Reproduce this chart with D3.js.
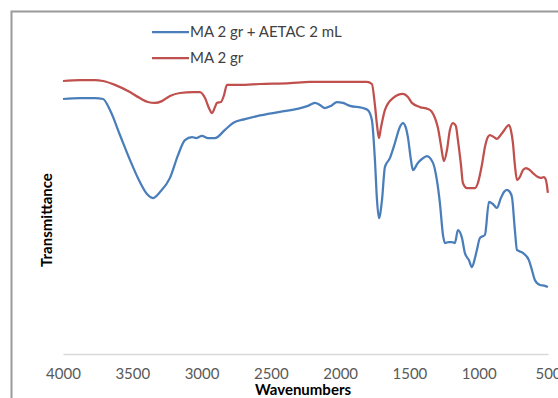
<!DOCTYPE html>
<html>
<head>
<meta charset="utf-8">
<script src="https://cdn.jsdelivr.net/npm/d3@7"></script>
<style>
  body { margin: 0; background: #fff; }
  text { font-family: Lato, "Open Sans", sans-serif; }
</style>
</head>
<body>
<div id="chart"></div>
<script>
var svgWidth = 558;
var svgHeight = 398;

// series names for the legend
var seriesNames = ["MA 2 gr + AETAC 2 mL", "MA 2 gr"];

// MA 2 gr + AETAC 2 mL (blue) : wavenumber, transmittance (arbitrary units)
var blueWn = [4000, 3877, 3769, 3711, 3661, 3589, 3517, 3445, 3394, 3351, 3300, 3228, 3170, 3120, 3069, 3040,
  2997, 2954, 2903, 2831, 2773, 2687, 2600, 2434, 2312, 2232, 2182, 2146, 2110, 2066, 2023, 1980, 1929, 1836,
  1800, 1771, 1749, 1734, 1720, 1698, 1677, 1641, 1605, 1569, 1547, 1525, 1511, 1489, 1475, 1439, 1410, 1374,
  1330, 1302, 1280, 1258, 1244, 1215, 1193, 1172, 1150, 1121, 1100, 1071, 1049, 1027, 1013, 991, 955, 926, 898,
  869, 840, 818, 797, 775, 760, 739, 724, 681, 638, 616, 595, 558, 522, 501];
var blueT = [85.0, 85.3, 85.3, 85.0, 81.3, 73.0, 64.7, 57.3, 53.3, 52.0, 54.0, 58.7, 66.3, 71.3, 72.3, 72.0,
  72.7, 72.0, 72.0, 74.7, 77.0, 78.3, 79.3, 80.7, 81.7, 82.7, 83.7, 83.0, 82.0, 82.7, 84.0, 83.7, 82.7, 82.0,
  81.3, 78.0, 64.7, 51.3, 45.3, 51.3, 62.3, 65.3, 70.3, 75.7, 77.0, 75.3, 72.3, 64.7, 61.3, 63.7, 65.0, 66.0,
  63.7, 58.0, 50.3, 39.7, 37.0, 37.3, 37.3, 37.0, 41.3, 38.7, 33.7, 31.3, 29.0, 32.0, 34.7, 38.7, 39.7, 50.7, 50.0,
  48.7, 52.0, 54.0, 54.7, 54.0, 52.3, 41.3, 34.7, 33.7, 31.3, 28.0, 24.7, 23.0, 22.7, 22.3];

// MA 2 gr (red)
var redWn = [4000, 3877, 3769, 3711, 3625, 3517, 3445, 3387, 3336, 3286, 3228, 3156, 3062, 3012, 2975, 2947,
  2925, 2903, 2889, 2860, 2838, 2817, 2723, 2579, 2362, 2218, 2001, 1807, 1771, 1749, 1734, 1720, 1706, 1677,
  1619, 1547, 1511, 1482, 1424, 1367, 1338, 1316, 1294, 1273, 1251, 1229, 1208, 1186, 1165, 1150, 1128, 1114,
  1085, 1027, 1006, 977, 955, 934, 919, 890, 869, 847, 825, 782, 768, 753, 739, 724, 703, 681, 659, 631, 609,
  573, 551, 530, 515, 508, 501];
var redT = [91.0, 91.3, 91.3, 91.0, 89.7, 87.3, 85.3, 84.0, 83.7, 84.3, 86.0, 87.0, 87.3, 87.3, 85.3, 82.0,
  80.3, 82.3, 83.7, 84.0, 86.3, 89.7, 89.7, 90.0, 90.3, 90.7, 90.7, 90.7, 90.0, 83.0, 76.3, 72.0, 75.3, 81.3,
  85.3, 86.7, 85.7, 83.7, 82.3, 81.7, 80.7, 78.7, 75.3, 69.7, 64.3, 68.0, 74.7, 77.0, 76.0, 71.3, 63.0, 57.0,
  55.3, 55.3, 57.0, 63.0, 69.0, 72.3, 73.0, 72.3, 71.7, 72.7, 74.0, 76.3, 74.7, 70.3, 63.0, 58.0, 59.0, 61.3,
  62.0, 61.3, 60.3, 59.0, 58.7, 59.0, 58.0, 56.3, 53.7];

// x axis ticks
var xTicks = [4000, 3500, 3000, 2500, 2000, 1500, 1000, 500];

var blueData = blueWn.map((w, i) => ({wn: w, t: blueT[i]}));
var redData = redWn.map((w, i) => ({wn: w, t: redT[i]}));

var svg = d3.select("#chart")
  .append("svg")
  .attr("width", svgWidth)
  .attr("height", svgHeight);

// outer chart frame (runs off the right and bottom edge)
svg.append("rect")
  .attr("x", 11.5)
  .attr("y", 11.5)
  .attr("width", 600)
  .attr("height", 450)
  .attr("fill", "none")
  .attr("stroke", "#9a9a9a")
  .attr("stroke-width", 2);

var xScale = d3.scaleLinear()
  .domain([4000, 500])
  .range([63, 548]);

var yScale = d3.scaleLinear()
  .domain([0, 100])
  .range([354, 54]);

// x axis: a plain grey line with labels, no tick marks
var xAxis = svg.append("g")
  .attr("transform", "translate(0, 354)")
  .call(d3.axisBottom(xScale).tickValues(xTicks).tickSize(0).tickPadding(14).tickFormat(d3.format("d")));

xAxis.select(".domain")
  .attr("stroke", "#d9d9d9")
  .attr("stroke-width", 1.5);

xAxis.selectAll("text")
  .attr("fill", "#595959")
  .style("font-size", "15px")
  .style("font-family", "Lato, sans-serif");

svg.append("text")
  .attr("x", 303)
  .attr("y", 395)
  .attr("text-anchor", "middle")
  .attr("font-weight", "bold")
  .attr("font-size", "15px")
  .attr("fill", "#000")
  .text("Wavenumbers");

svg.append("text")
  .attr("transform", "translate(52, 220) rotate(-90)")
  .attr("text-anchor", "middle")
  .attr("font-weight", "bold")
  .attr("font-size", "15px")
  .attr("fill", "#000")
  .text("Transmittance");

var line = d3.line()
  .x(d => xScale(d.wn))
  .y(d => yScale(d.t))
  .curve(d3.curveMonotoneX);

svg.append("path")
  .datum(redData)
  .attr("d", line)
  .attr("fill", "none")
  .attr("stroke", "#c0504d")
  .attr("stroke-width", 2.25)
  .attr("stroke-linejoin", "round");

svg.append("path")
  .datum(blueData)
  .attr("d", line)
  .attr("fill", "none")
  .attr("stroke", "#4a7ebb")
  .attr("stroke-width", 2.25)
  .attr("stroke-linejoin", "round");

// legend
var legendColors = ["#4a7ebb", "#c0504d"];
var legend = svg.selectAll(".legend")
  .data(seriesNames)
  .enter()
  .append("g")
  .attr("class", "legend")
  .attr("transform", (d, i) => `translate(152, ${32 + i * 26})`);

legend.append("line")
  .attr("x1", 0)
  .attr("x2", 37)
  .attr("stroke", (d, i) => legendColors[i])
  .attr("stroke-width", 2.25);

legend.append("text")
  .attr("x", 38)
  .attr("y", 0)
  .attr("dy", "0.35em")
  .attr("font-size", "15px")
  .attr("fill", "#404040")
  .text(d => d);
</script>
</body>
</html>
